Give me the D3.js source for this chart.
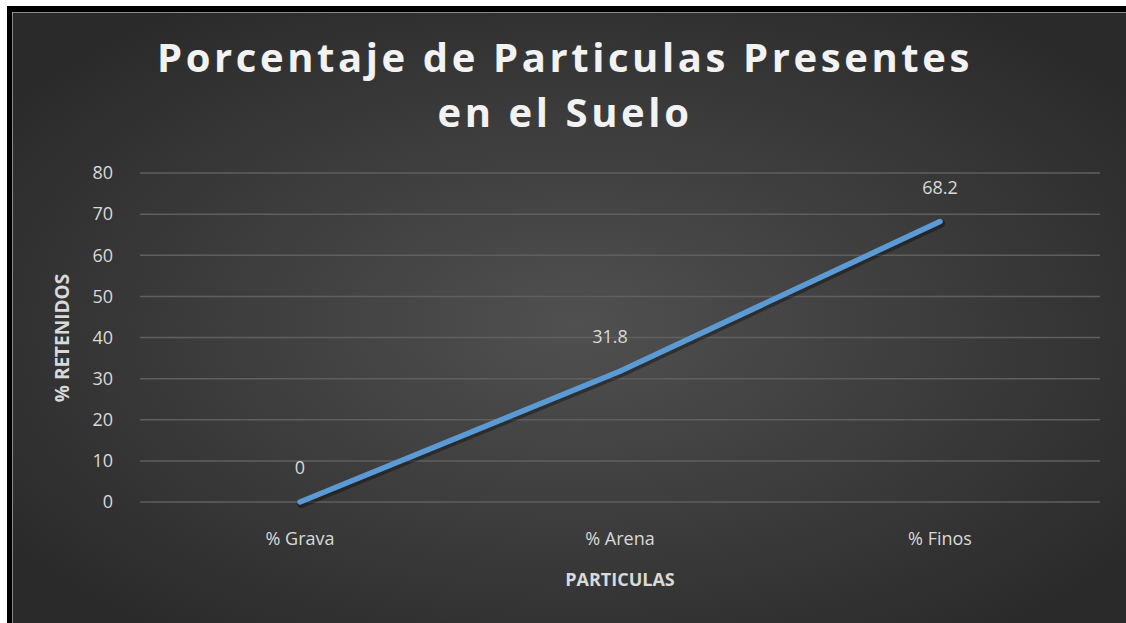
<!DOCTYPE html>
<html><head><meta charset="utf-8">
<script src="https://cdn.jsdelivr.net/npm/d3@7"></script>
<style>html,body{margin:0;padding:0;background:#fff;}svg{display:block;}</style>
</head><body>
<script>
const categories = ["% Grava", "% Arena", "% Finos"];
const values = [0, 31.8, 68.2];
const yTicks = [0, 10, 20, 30, 40, 50, 60, 70, 80];
const titleLines = ["Porcentaje de Particulas Presentes", "en el Suelo"];
const yTitle = "% RETENIDOS";
const xTitle = "PARTICULAS";

const W = 1126, H = 623;
const svg = d3.select("body").append("svg").attr("width", W).attr("height", H);
const defs = svg.append("defs");
const grad = defs.append("radialGradient").attr("id", "bg")
  .attr("cx", "50%").attr("cy", "50%").attr("r", "62%");
grad.append("stop").attr("offset", "0%").attr("stop-color", "#505050");
grad.append("stop").attr("offset", "100%").attr("stop-color", "#2a2a2a");

// frame
svg.append("rect").attr("x", 7).attr("y", 6).attr("width", W).attr("height", H).attr("fill", "#000");
svg.append("rect").attr("x", 12).attr("y", 12).attr("width", W).attr("height", H).attr("fill", "#8a8a8a");
svg.append("rect").attr("x", 13).attr("y", 13).attr("width", W).attr("height", H).attr("fill", "url(#bg)");

const x = d3.scaleBand().domain(categories).range([140, 1100]);
const y = d3.scaleLinear().domain([0, 80]).range([502, 173]);

// gridlines
svg.append("g").selectAll("line").data(yTicks).join("line")
  .attr("x1", 140).attr("x2", 1100)
  .attr("y1", d => y(d)).attr("y2", d => y(d))
  .attr("stroke", "#5f5f5f").attr("stroke-width", 1.5);

// y axis labels
const yAxis = d3.axisLeft(y).tickValues(yTicks).tickSize(0).tickPadding(0);
const gy = svg.append("g").attr("transform", "translate(113,0)").call(yAxis);
gy.select(".domain").remove();
gy.selectAll("text").attr("fill", "#d9d9d9").attr("font-family", "Open Sans, sans-serif")
  .attr("font-size", 18);

// x axis labels
const xAxis = d3.axisBottom(x).tickSize(0).tickPadding(0);
const gx = svg.append("g").attr("transform", "translate(0,532)").call(xAxis);
gx.select(".domain").remove();
gx.selectAll("text").attr("fill", "#d9d9d9").attr("font-family", "Open Sans, sans-serif")
  .attr("font-size", 18);

// line
const line = d3.line().x((d, i) => x(categories[i]) + x.bandwidth() / 2).y(d => y(d));
svg.append("path").datum(values).attr("d", line)
  .attr("fill", "none").attr("stroke", "#000").attr("stroke-opacity", 0.35)
  .attr("stroke-width", 8).attr("stroke-linecap", "round").attr("transform", "translate(1,2)");
svg.append("path").datum(values).attr("d", line)
  .attr("fill", "none").attr("stroke", "#5b9bd5").attr("stroke-width", 5.5)
  .attr("stroke-linecap", "round");

// data labels
svg.append("g").selectAll("text").data(values).join("text")
  .attr("x", (d, i) => x(categories[i]) + x.bandwidth() / 2 - (i === 1 ? 10 : 0))
  .attr("y", d => y(d) - 28)
  .attr("text-anchor", "middle")
  .attr("fill", "#d9d9d9").attr("font-family", "Open Sans, sans-serif").attr("font-size", 18)
  .text(d => d);

// title
svg.append("g").selectAll("text").data(titleLines).join("text")
  .attr("x", 565).attr("y", (d, i) => 72 + i * 55)
  .attr("text-anchor", "middle")
  .attr("fill", "#f2f2f2").attr("font-family", "Open Sans, sans-serif")
  .attr("font-weight", "bold").attr("font-size", 40).attr("letter-spacing", 3.6)
  .text(d => d);

// axis titles
svg.append("text").attr("x", 620).attr("y", 586).attr("text-anchor", "middle")
  .attr("fill", "#d9d9d9").attr("font-family", "Open Sans, sans-serif")
  .attr("font-weight", "bold").attr("font-size", 18).text(xTitle);
svg.append("text").attr("transform", "translate(69,338) rotate(-90)").attr("text-anchor", "middle")
  .attr("fill", "#d9d9d9").attr("font-family", "Open Sans, sans-serif")
  .attr("font-weight", "bold").attr("font-size", 19).text(yTitle);
</script>
</body></html>
